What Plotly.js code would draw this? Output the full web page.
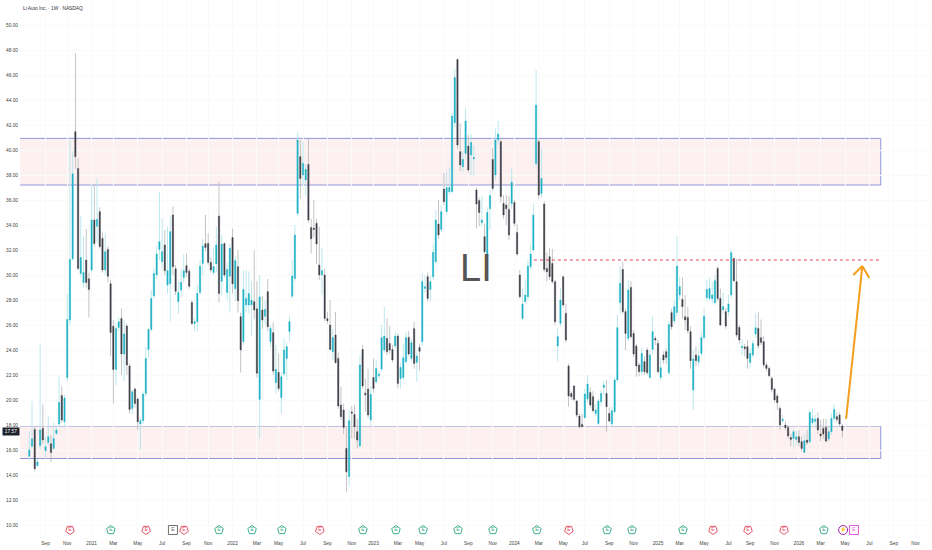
<!DOCTYPE html>
<html>
<head>
<meta charset="utf-8">
<script src="https://cdn.plot.ly/plotly-3.0.1.min.js"></script>
<style>html,body{margin:0;padding:0;background:#fff}</style>
</head>
<body>
<div id="chart" style="width:932px;height:550px"></div>
<script>
const opens = [
15.5,16.3,17.65,14.75,16.35,17.73,15.95,16.6,16.5,16.13,
17.33,18.08,20.37,18.27,21.8,26.4,31.3,41.47,38.53,30.13,
29.4,31.2,29.7,30.4,34.4,33.9,35.07,32.93,30.4,32.05,
29.3,25.9,22.45,25.8,26.53,23.68,25.92,22.72,19.33,20.88,
20.08,18.08,18.35,20.53,24.05,25.65,28.32,30,32.05,31.07,
32.4,29.2,29.3,34.8,30.5,27.87,28.8,29.8,30.75,30.3,
27.8,26.13,26.27,28.6,30.93,32.5,32.53,31.01,30.2,30.88,
34.72,29.5,32.53,28.6,29.9,33,28.9,30.67,26.67,24.67,
27.6,27.6,27.6,27.87,27.3,20.05,27.2,26.7,28.67,24.67,
25.39,21.39,22.21,20.19,22.08,23.33,25.49,28.3,29.73,34.93,
39.47,38,37.6,38.85,33.8,33.75,34.13,30.8,30,30,
26.5,26,23.87,25.2,23.33,19.6,19.2,16.13,13.87,19.05,
18.85,17.47,16.32,24.05,20.55,20.88,18.4,21.8,21.47,21.95,
22.48,24,24.93,24.53,24.05,24.32,25.12,21.73,21.81,23.07,
25.01,23.33,25.71,23,24.2,24.67,28.93,29.87,28.85,29.87,
31.07,34.08,33.65,36.88,35.07,36.67,36.67,42.19,47.25,39.87,
38.67,39.73,40.32,39.6,39.3,36.8,35.95,34.2,33.07,31.47,
35.31,39.25,38,40.8,40.67,35.73,35.6,35.25,35.73,35.8,
33.41,30,26.53,27.87,28.27,30.67,32,38.93,40.67,36.53,
35.68,30.53,31.47,30.93,29.47,24.32,26.13,29.87,26.93,22.72,
20.53,21.12,19.92,18.72,18.05,18.59,20.08,20.61,20.27,18.93,
18.13,19.87,21,20.53,18.93,18.08,19.07,21.6,27.79,30.45,
27.07,24.93,29.01,25.33,24.32,22.8,22.27,23.07,24,21.81,
24.05,24.93,24.53,21.81,23.6,23.87,22.19,26.99,26.32,27,
28.4,28.05,26.67,26.61,25.47,20.8,23.6,23.07,23.73,25,
28.19,28.13,28.1,27.79,30.53,28.13,27.2,27.07,27.07,28.4,
31.33,29.47,25.81,24.2,24.25,24.27,23,23.6,25.28,25.73,
24.99,24.67,22.8,22.53,21.73,20.88,20.32,19.33,18.35,18,
17.81,17,16.93,16.85,17.07,16.67,15.81,16.8,16.67,18.19,
18.3,18.53,17.28,17.73,17.81,16.88,17.47,18.53,18.67,18.8,
17.92
];
const highs = [
17.5,19.9,17.9,15.3,24.5,19.65,17.1,18.7,17.2,18.2,
17.95,21.87,21.1,20.4,28.5,40.8,39.9,47.75,39.33,34.7,
33.1,33.7,30.2,37.2,37.2,37.73,35.4,33.4,33.33,32.3,
29.6,26.4,26.1,26.6,27.33,26.4,26.1,22.9,20.8,21,
20.2,18.6,20.7,24.27,25.7,28.8,30.6,32.3,36.64,34.53,
33.6,33.9,34.67,35.47,30.8,29.5,30.5,31.7,31.7,30.5,
28,26.6,29.2,31.2,32.93,34.8,33.33,31.4,32.2,33.87,
37.47,33.2,32.6,31,32.5,33.73,31.5,32,27,30.4,
30.4,30.3,29.5,32,29.5,30,28.3,28,29.7,26,
26.2,24.4,23.73,22.2,24.93,24.6,26.7,31.2,34,41.4,
40.8,40.67,38.9,40.93,34.5,36,34.5,33.87,32.13,30.53,
27.07,28,25.7,27.07,23.8,21.07,19.7,17.8,19.2,19.5,
19.6,18.5,23.6,24.4,21.7,22.5,21.1,23.33,23.2,22.3,
26,27.47,26.53,25.92,24.4,25.4,25.3,23,24.5,25.4,
25.5,24.9,26.27,23.9,24.5,30.13,30,30.2,30,32.5,
35.2,36,35.6,38.13,38.27,38.6,43,46.5,47.3,42.13,
39.9,43.33,41.2,41.3,40.3,37,36.2,36.3,34.1,35.4,
36.8,40.13,41.7,42.35,41,36.4,36.4,36.3,38.53,36,
34.1,30.4,28.9,29.6,31.2,32.4,35.7,46.4,40.9,40.13,
35.9,31.8,32.13,32.1,29.6,25.7,29,29.9,27.7,22.9,
20.7,21.2,20,18.9,18.9,20.9,22,21,20.7,19.7,
20.1,20.8,21.5,21.6,19.4,19.5,21.8,26.8,30.72,31.07,
27.3,29.6,29.5,25.6,24.5,23,24.2,23.5,24.2,24,
26.67,25.1,24.8,23.4,23.9,24.1,26.3,27.3,28,33.12,
29.87,29.8,28.4,27.47,25.9,24,24.3,24,25.4,27.33,
29.6,29.8,29.4,30,30.7,28.9,28.6,27.4,28.4,32,
31.4,31.3,26,24.9,24.5,24.8,24.1,24.8,26.93,27.07,
26.45,25.1,23,22.7,21.9,21,20.5,19.5,18.8,18.3,
18,17.3,17.7,17.5,17.6,17.1,17.3,17.6,19.2,19.33,
18.8,19,18.4,18.5,18.5,18,18.9,19.65,19,19,
18.1
];
const lows = [
15.2,16.2,14.3,14.7,16,16.5,15.3,16.4,15.05,16,
17.2,17.87,18.2,17.87,21.5,26,31.1,38.5,30.4,29.8,
29,29,26.6,30.2,32.3,32.6,32.1,30.2,30,29.4,
23.5,19.7,21.2,25.5,22,21.5,22,18.9,18.9,19.4,
17.6,16,18.1,20.3,23.4,25.5,28.1,29.7,31.2,30.4,
30,28.5,26.27,30,28.4,26.9,28.2,29.4,29.8,28.9,
26,25.5,25.5,28.4,30,31.9,30.8,30.2,30,30.2,
27.8,28.4,29.8,28,27,28.5,27.9,27,22.2,24.4,
27,26.9,25.15,26.5,21.8,16.93,25.7,26,25.5,24.2,
22,20.5,20.7,18.88,21.9,21.6,24.67,28.1,29.5,34.7,
36.1,37.2,36.3,34.2,31.7,33,30.9,29.6,28.4,26.3,
26.1,24,23.2,22.9,19.3,18.4,17.3,12.6,13.07,16.93,
16.93,16.13,16.2,20.9,19.07,18.6,18,20.6,21.3,21.7,
22.3,23.8,23.6,23.7,23,24.1,20.93,20.9,21.6,22.9,
23.5,23.1,22.5,21.47,22.4,24.3,28.6,27.9,27.9,29.6,
30.9,32.9,33.4,35.6,34.8,36.4,36.5,41.8,40.1,38.3,
38.2,39.4,38.2,38,37.9,33.73,33.9,33.9,31.7,31.2,
33.6,36.7,37.6,40.4,35.8,34.5,34,32.8,35.3,33.9,
31.5,28.1,26.4,27.7,28,30.4,31.9,38.6,36.1,36.2,
30.2,29.5,29.6,29.3,26,23.07,25.9,27.4,24.6,19.47,
20,19.9,18.6,17.7,17.8,18.5,19.8,19.4,19,18.7,
18,19.5,20.4,17.47,18.2,17.9,18.9,21.4,26.9,26.9,
24,24.7,24.9,23.4,21.87,21.9,22,22,22,21.7,
23.6,24.4,22.1,21.6,22.9,22.9,22,25.6,26.1,26.7,
28,26.5,25.6,25.3,22.5,19.2,22.7,22.7,23.5,24.8,
27.9,27.9,27.7,27.6,27.9,25.9,26.9,25.7,26.7,28.1,
29.4,25,24.5,23.6,23.5,22.5,22.6,23.4,25,24.1,
24.4,22.6,22.3,21.8,20.6,19.8,19.2,17.6,18.2,17.6,
16.9,16.3,16.3,16.4,16.3,15.9,15.75,16.4,16.5,18,
17.8,17.3,16.7,16.9,16.6,16.7,17.2,18.2,18.2,17.9,
17
];
const closes = [
16,16.9,14.5,15.05,17.6,16.8,16.27,17.07,15.8,16.93,
17.6,19.8,18.4,20.16,26.45,31.25,38.1,39.47,30.53,31.4,
30.2,29.4,28.85,34.4,32.53,34.45,32.27,30.4,31.87,29.9,
25.4,22.45,25.73,26.27,23.68,25.28,22.8,19.25,20.67,19.73,
18.27,18.35,20.48,23.33,25.65,28.13,30.13,31.68,32.67,31.87,
30.35,30.35,33.47,30.67,28.7,28.6,29.4,30.35,30.2,29.1,
26.13,26.27,28.53,30.7,32.32,32.2,31.01,30.4,30.67,32.4,
28.53,32.45,30,30.45,32.13,29.3,31.15,27.95,24,28.85,
28.13,28.53,28,27.2,22.15,28.25,26.4,27.25,25.87,25.73,
22.32,22.45,20.93,21.87,24,24.27,26.27,29.92,33.2,40.8,
37.73,38.93,38.45,34.4,32.9,33.65,32.48,30,30.35,26.53,
26.35,24.05,25,23,19.52,18.67,17.81,14.27,18.35,18.95,
17.87,16.8,22.8,21.12,20.4,18.8,20.45,20.93,22.53,22.08,
24.99,25.12,23.87,24,23.2,25.12,21.33,22.61,23.39,24.99,
23.68,24.59,22.93,23.52,23.9,29.47,29.07,28.13,29.47,31.81,
34.4,33.2,35.07,35.87,36.99,37,42.72,45.81,40.4,38.8,
39.25,42.32,38.4,40.6,39.4,35.68,35,34.4,31.87,35,
36.35,36.93,40.8,41.28,36.27,34.8,35.3,33.2,37.44,34.13,
31.68,28.27,27.68,28.4,30.72,31.68,34.8,43.6,36.4,37.73,
30.45,30.27,29.87,29.47,26.27,25.07,28,27.6,24.8,20.32,
20.27,20.05,18.8,17.87,17.87,20.48,21.28,19.6,19.15,19.2,
19.92,20.53,21.2,19.47,18.32,19.15,21.6,25.79,29.33,27.07,
25.33,28.8,25.07,23.68,22.72,22.27,23.73,22.27,22.19,23.6,
25.47,24.8,22.27,22.59,23.2,23.41,26.05,25.87,27.47,30.72,
29.07,27.47,26.4,25.55,23.15,23.28,23.15,23.52,25,26.72,
28.85,28.93,28.4,29.55,28.13,26,27.47,25.92,27.68,31.79,
29.55,25.2,24.8,24.3,24.1,23.33,23.73,24.53,25.79,24.35,
24.61,22.8,22.53,21.95,20.85,20,19.79,18,18.45,17.79,
17.12,16.85,17.47,17.05,16.61,16.13,16.75,16.61,19,18.53,
18.45,17.6,17.12,17.28,16.72,17.47,18.53,19.25,18.45,18.08,
17.57
];
const weeks = opens.map((_, i) => i);

const tickWeeks = [6,14,23,31,40,49,58,66,75,84,92,101,110,119,127,136,144,153,162,171,179,188,197,205,214,223,232,240,249,258,266,275,284,292,301,310,319,327];
const tickLabels = ["Sep","Nov","2021","Mar","May","Jul","Sep","Nov","2022","Mar","May","Jul","Sep","Nov","2023","Mar","May","Jul","Sep","Nov","2024","Mar","May","Jul","Sep","Nov","2025","Mar","May","Jul","Sep","Nov","2026","Mar","May","Jul","Sep","Nov"];

const redEarnings = [15,43.1,57.1,107.2,199.1,252.3,265.2,278.5];
const greenEarnings = [30.1,70,82.2,93.2,123.1,135.3,145.3,158.2,171.1,187.3,213.2,222.4,241.2,293.2];
const grayEvents = [53];
const dividendEvents = [300.3];
const futureEarnings = [304.3];
const eventLevel = 9.6;

const zoneEnd = 314.2;
const upperZone = [37.2, 40.93];
const lowerZone = [15.32, 17.92];
const targetLevel = 31.2;
const targetStart = 186.2;
const arrowX = [301.4, 307.4];
const arrowY = [18.48, 30.72];
const headLeft = [304.06, 30.0];
const headRight = [309.96, 29.76];

const UP = "#1fb3c6", DOWN = "#3e4048", UPW = "#b4e6ec", DOWNW = "#bdbdbd";
const FONT = "'Liberation Sans', Arial, sans-serif";

const wicks = {
  type: "bar", x: weeks, base: lows, y: highs.map((h, i) => h - lows[i]), width: 0.33,
  marker: {color: closes.map((c, i) => c >= opens[i] ? UPW : DOWNW), line: {width: 0}},
  hoverinfo: "skip", showlegend: false
};
const bodies = {
  type: "candlestick", x: weeks, open: opens, close: closes,
  high: opens.map((o, i) => Math.max(o, closes[i])),
  low: opens.map((o, i) => Math.min(o, closes[i])),
  increasing: {line: {color: UP, width: 0.4}, fillcolor: UP},
  decreasing: {line: {color: DOWN, width: 0.4}, fillcolor: DOWN},
  whiskerwidth: 0, hoverinfo: "skip", showlegend: false
};
function events(xs, symbol, color, glyph, angle) {
  return {
    type: "scatter", mode: "markers+text", x: xs, y: xs.map(() => eventLevel),
    text: xs.map(() => glyph), textposition: "middle center",
    textfont: {size: 5, color: color, family: FONT},
    marker: {symbol: symbol, size: 9, angle: angle || 0, color: color, line: {color: color, width: 1}},
    hoverinfo: "skip", showlegend: false, cliponaxis: false
  };
}
const traces = [
  wicks, bodies,
  events(redEarnings, "pentagon-open", "#e8536a", "E", 180),
  events(greenEarnings, "pentagon-open", "#3fae8f", "E", 0),
  events(grayEvents, "square-open", "#6f6f6f", "E", 0),
  events(dividendEvents, "circle-open", "#9c27b0", "⚡", 0),
  events(futureEarnings, "square-open", "#e05ce0", "E", 0)
];

function zone(band) {
  return {type: "rect", layer: "below", x0: -20, x1: zoneEnd, y0: band[0], y1: band[1],
          fillcolor: "#fdf0f0", line: {color: "#8f97da", width: 1}};
}
function arrowLine(x0, y0, x1, y1) {
  return {type: "line", x0: x0, y0: y0, x1: x1, y1: y1, line: {color: "#f59d1c", width: 2}};
}
const shapes = [
  zone(upperZone), zone(lowerZone),
  {type: "line", x0: targetStart, x1: zoneEnd, y0: targetLevel, y1: targetLevel,
   line: {color: "#e2455f", width: 1, dash: "dot"}},
  arrowLine(arrowX[0], arrowY[0], arrowX[1], arrowY[1]),
  arrowLine(headLeft[0], headLeft[1], arrowX[1], arrowY[1]),
  arrowLine(headRight[0], headRight[1], arrowX[1], arrowY[1])
];

const layout = {
  width: 932, height: 550,
  margin: {l: 20, r: 0, t: 0, b: 13, pad: 0},
  paper_bgcolor: "#ffffff", plot_bgcolor: "#ffffff",
  showlegend: false, barmode: "overlay",
  font: {family: FONT, size: 5, color: "#3a3d46"},
  title: {text: "Li Auto Inc. · 1W · NASDAQ", x: 23/932, xanchor: "left", xref: "container",
          y: 1 - 8/550, yanchor: "middle", yref: "container", font: {size: 4.8, color: "#2a2e39", family: FONT}},
  xaxis: {type: "linear", range: [-3.43, 333.1], tickmode: "array", tickvals: tickWeeks, ticktext: tickLabels,
          showgrid: true, gridcolor: "#fafafa", zeroline: false, showline: false, ticks: "", rangeslider: {visible: false},
          tickfont: {size: 4.8, color: "#444"}, fixedrange: true, ticklabelstandoff: 2},
  yaxis: {range: [9.04, 52], dtick: 2, tick0: 10, tickformat: ".2f", showgrid: true, gridcolor: "#fafafa",
          zeroline: false, showline: false, ticks: "", tickfont: {size: 4.8, color: "#444"}, fixedrange: true, ticklabelstandoff: 1},
  shapes: shapes,
  annotations: [
    {text: "LI", xref: "x", yref: "y", x: 164.8, y: 30.56, showarrow: false,
     font: {size: 38, color: "#555555", family: "'Liberation Sans Narrow', " + FONT}},
    {text: "17.57", xref: "paper", yref: "y", x: -9/912, xanchor: "center", y: 17.5, showarrow: false,
     font: {size: 4.8, color: "#ffffff", family: FONT}, bgcolor: "#1e222d", width: 16, height: 7, borderpad: 0}
  ]
};
Plotly.newPlot("chart", traces, layout, {displayModeBar: false, staticPlot: true});
</script>
</body>
</html>
